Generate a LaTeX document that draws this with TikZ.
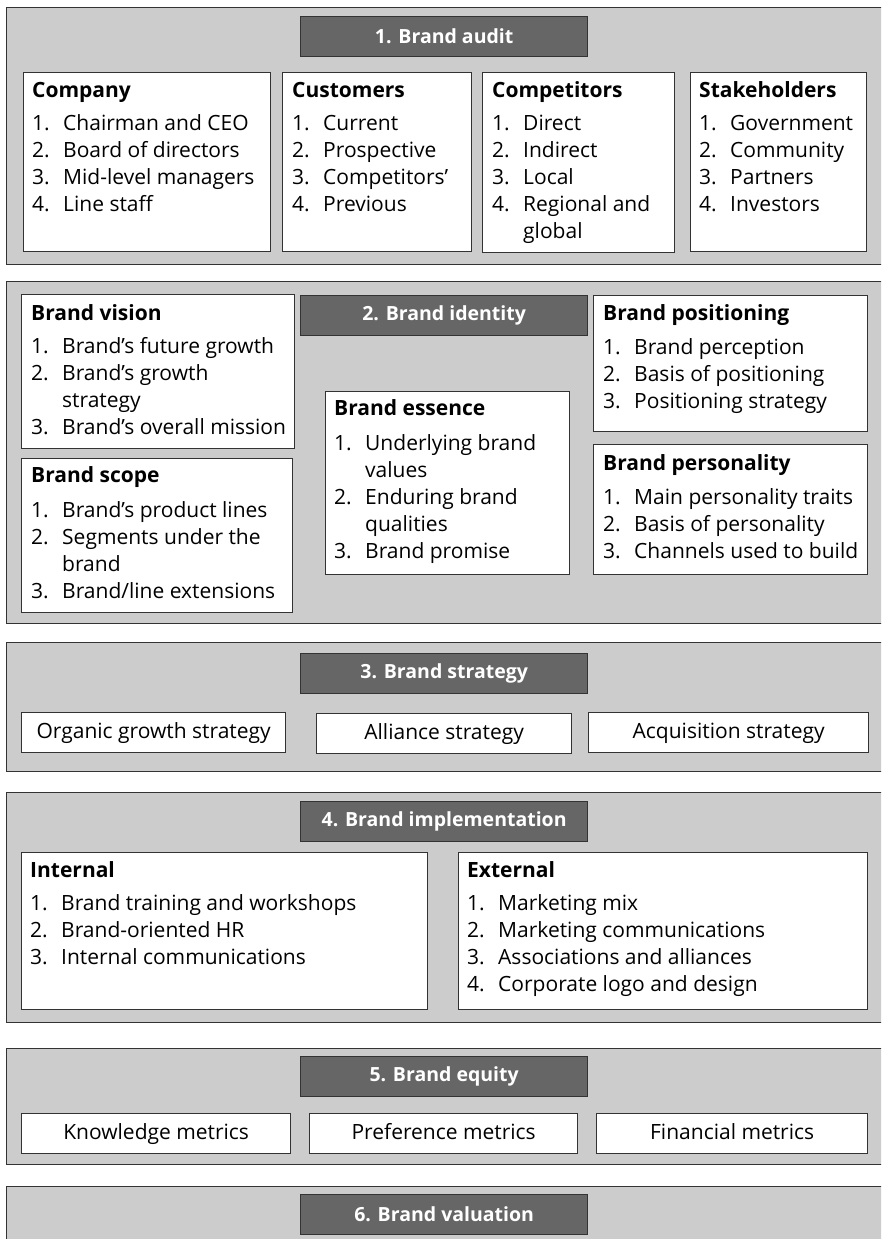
\documentclass[tikz,border=0pt]{standalone}
\usepackage{fontspec}
\setmainfont{Open Sans}
\usetikzlibrary{positioning}

\newcommand\itemfont{\fontsize{21}{27}\selectfont}
\newcommand\stagefont{\fontsize{19.5}{22}\selectfont\bfseries}
\newcommand\itm[2]{\makebox[31pt][l]{#1}#2}
\newcommand\cont[1]{\makebox[31pt][l]{}#1}

\tikzset{
    panel/.style={draw=black!80, line width=1.3pt, fill=gray!40, anchor=north west, inner sep=0},
    stage/.style={draw=black!80, line width=1.3pt, fill=black!60, text=white, font=\stagefont,
        minimum width=287pt, minimum height=40pt, anchor=north west, inner sep=0},
    listbox/.style={draw=black!80, line width=1.3pt, fill=white, anchor=north west, inner sep=0},
    listtext/.style={anchor=base west, inner sep=0, font=\itemfont},
    itembox/.style={draw=black!80, line width=1.3pt, fill=white, font=\itemfont, anchor=north west,
        inner sep=0, minimum height=40pt, text height=15pt, text depth=4pt}
}

\begin{document}
\begin{tikzpicture}[x=1pt, y=-1pt]

    \useasboundingbox (0,0) rectangle (881,1239);
    \clip (0,0) rectangle (881,1239);

    % six stages
    \node[panel, minimum width=884pt, minimum height=257pt] (audit) at (6,7) {};
    \node[panel, minimum width=884pt, minimum height=342pt] (identity) at (6,281) {};
    \node[panel, minimum width=884pt, minimum height=129pt] (strategy) at (6,642) {};
    \node[panel, minimum width=884pt, minimum height=230pt] (implementation) at (6,792) {};
    \node[panel, minimum width=884pt, minimum height=116pt] (equity) at (6,1048) {};
    \node[panel, minimum width=884pt, minimum height=80pt] (valuation) at (6,1186) {};

    \node[stage] (audit-title) at (300,16) {1. Brand audit};
    \node[stage] (identity-title) at (300,295) {2. Brand identity};
    \node[stage] (strategy-title) at (300,653) {3. Brand strategy};
    \node[stage] (implementation-title) at (300,801) {4. Brand implementation};
    \node[stage] (equity-title) at (300,1056) {5. Brand equity};
    \node[stage] (valuation-title) at (300,1194) {6. Brand valuation};

    % 1. audit
    \node[listbox, minimum width=247pt, minimum height=179pt] (company) at (23,72) {};
    \node[listtext] (company-text) at (32,97) {\parbox[t]{240pt}{\textbf{Company}\\[6pt]
        \itm{1.}{Chairman and CEO}\\ \itm{2.}{Board of directors}\\
        \itm{3.}{Mid-level managers}\\ \itm{4.}{Line staff}}};
    \node[listbox, minimum width=189pt, minimum height=179pt] (customers) at (282,72) {};
    \node[listtext] (customers-text) at (292,97) {\parbox[t]{180pt}{\textbf{Customers}\\[6pt]
        \itm{1.}{Current}\\ \itm{2.}{Prospective}\\
        \itm{3.}{Competitors’}\\ \itm{4.}{Previous}}};
    \node[listbox, minimum width=192pt, minimum height=180pt] (competitors) at (482,72) {};
    \node[listtext] (competitors-text) at (492,97) {\parbox[t]{180pt}{\textbf{Competitors}\\[6pt]
        \itm{1.}{Direct}\\ \itm{2.}{Indirect}\\
        \itm{3.}{Local}\\ \itm{4.}{Regional and}\\ \cont{global}}};
    \node[listbox, minimum width=176pt, minimum height=179pt] (stakeholders) at (690,72) {};
    \node[listtext] (stakeholders-text) at (699,97) {\parbox[t]{170pt}{\textbf{Stakeholders}\\[6pt]
        \itm{1.}{Government}\\ \itm{2.}{Community}\\
        \itm{3.}{Partners}\\ \itm{4.}{Investors}}};

    % 2. identity
    \node[listbox, minimum width=273pt, minimum height=154pt] (vision) at (21,294) {};
    \node[listtext] (vision-text) at (31,320) {\parbox[t]{265pt}{\textbf{Brand vision}\\[6pt]
        \itm{1.}{Brand’s future growth}\\ \itm{2.}{Brand’s growth}\\ \cont{strategy}\\
        \itm{3.}{Brand’s overall mission}}};
    \node[listbox, minimum width=271pt, minimum height=154pt] (scope) at (21,458) {};
    \node[listtext] (scope-text) at (31,482) {\parbox[t]{265pt}{\textbf{Brand scope}\\[8pt]
        \itm{1.}{Brand’s product lines}\\ \itm{2.}{Segments under the}\\ \cont{brand}\\
        \itm{3.}{Brand/line extensions}}};
    \node[listbox, minimum width=244pt, minimum height=183pt] (essence) at (325,391) {};
    \node[listtext] (essence-text) at (334,415) {\parbox[t]{235pt}{\textbf{Brand essence}\\[8pt]
        \itm{1.}{Underlying brand}\\ \cont{values}\\ \itm{2.}{Enduring brand}\\ \cont{qualities}\\
        \itm{3.}{Brand promise}}};
    \node[listbox, minimum width=274pt, minimum height=136pt] (positioning) at (593,295) {};
    \node[listtext] (positioning-text) at (603,320) {\parbox[t]{265pt}{\textbf{Brand positioning}\\[7pt]
        \itm{1.}{Brand perception}\\ \itm{2.}{Basis of positioning}\\
        \itm{3.}{Positioning strategy}}};
    \node[listbox, minimum width=274pt, minimum height=130pt] (personality) at (593,444) {};
    \node[listtext] (personality-text) at (603,470) {\parbox[t]{265pt}{\textbf{Brand personality}\\[7pt]
        \itm{1.}{Main personality traits}\\ \itm{2.}{Basis of personality}\\
        \itm{3.}{Channels used to build}}};

    % 3. strategy
    \node[itembox, minimum width=264pt] (organic) at (21,712) {Organic growth strategy};
    \node[itembox, minimum width=255pt] (alliance) at (316,713) {Alliance strategy};
    \node[itembox, minimum width=280pt] (acquisition) at (588,712) {Acquisition strategy};

    % 4. implementation
    \node[listbox, minimum width=406pt, minimum height=157pt] (internal) at (21,852) {};
    \node[listtext] (internal-text) at (30,877) {\parbox[t]{395pt}{\textbf{Internal}\\[6pt]
        \itm{1.}{Brand training and workshops}\\ \itm{2.}{Brand-oriented HR}\\
        \itm{3.}{Internal communications}}};
    \node[listbox, minimum width=409pt, minimum height=157pt] (external) at (458,852) {};
    \node[listtext] (external-text) at (467,877) {\parbox[t]{395pt}{\textbf{External}\\[6pt]
        \itm{1.}{Marketing mix}\\ \itm{2.}{Marketing communications}\\
        \itm{3.}{Associations and alliances}\\ \itm{4.}{Corporate logo and design}}};

    % 5. equity
    \node[itembox, minimum width=269pt] (knowledge) at (21,1113) {Knowledge metrics};
    \node[itembox, minimum width=268pt] (preference) at (309,1113) {Preference metrics};
    \node[itembox, minimum width=271pt] (financial) at (596,1113) {Financial metrics};

\end{tikzpicture}
\end{document}
